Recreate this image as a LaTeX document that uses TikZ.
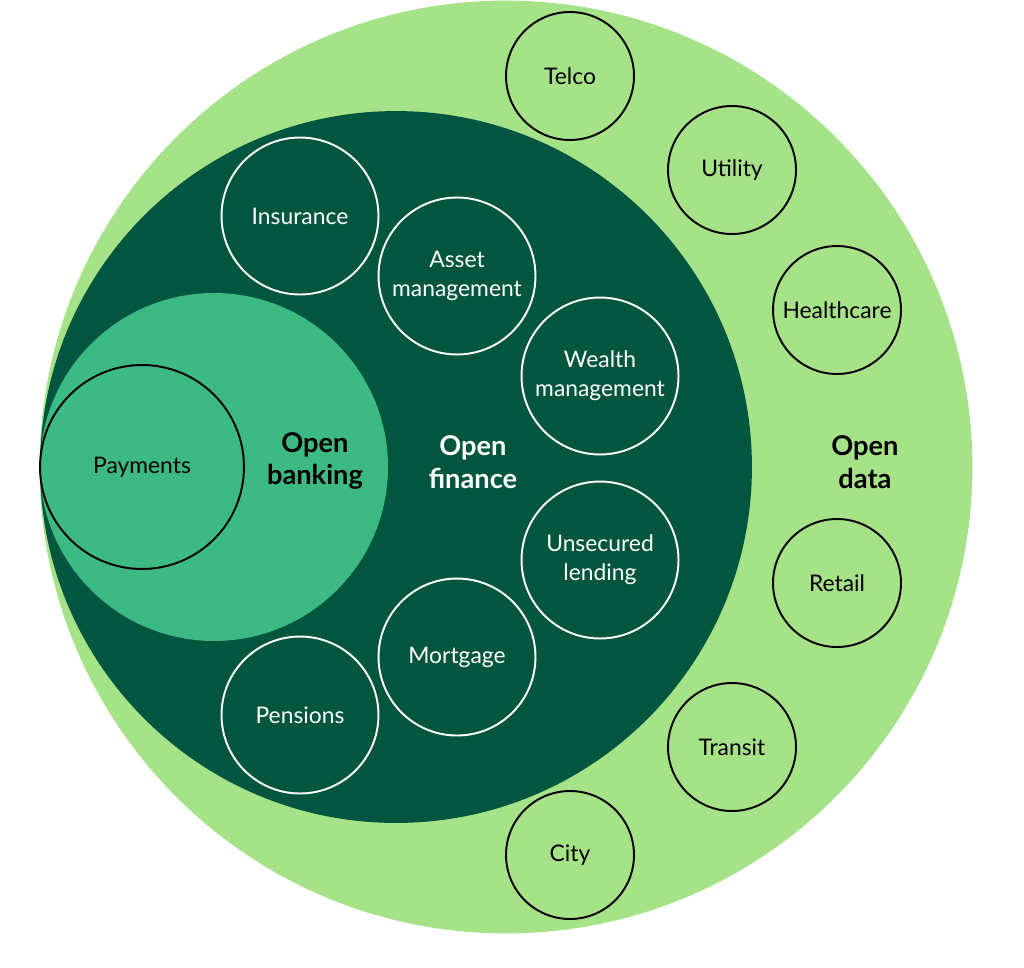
\documentclass[tikz,border=0pt]{standalone}
\usepackage{fontspec}
\setmainfont{Lato}
\definecolor{lightgr}{HTML}{A6E288}
\definecolor{darkgr}{HTML}{02563F}
\definecolor{midgr}{HTML}{3DB984}
\tikzset{
  datacirc/.style={circle,draw=black,line width=1.1pt,minimum size=2.56cm,inner sep=0pt,align=center,font=\fontsize{13}{16}\selectfont},
  fincirc/.style={circle,draw=white,line width=1.1pt,minimum size=3.14cm,inner sep=0pt,align=center,text=white,font=\fontsize{13}{16.4}\selectfont},
  biglabel/.style={align=center,font=\fontsize{15.5}{18.7}\selectfont\bfseries}
}
\begin{document}
\begin{tikzpicture}[x=0.02cm,y=-0.02cm]
		\useasboundingbox (0,0) rectangle (1024,967);
		\fill[lightgr] (506,467) circle (9.33cm);
		\fill[darkgr] (396,467) circle (7.12cm);
		\fill[midgr] (214,467) circle (3.48cm);
		\node[datacirc,minimum size=4.08cm] (payments) at (142,467) {Payments};
		\node[biglabel] (obank) at (315,461) {Open\\banking};
		\node[biglabel,text=white] (ofin) at (473,462) {Open\\finance};
		\node[biglabel] (odata) at (865,462) {Open\\data};
		\node[fincirc] (insurance) at (300,216) {Insurance};
		\node[fincirc] (asset) at (457,276) {Asset\\management};
		\node[fincirc] (wealth) at (600,376) {Wealth\\management};
		\node[fincirc] (unsecured) at (600,560) {Unsecured\\lending};
		\node[fincirc] (mortgage) at (457,657) {Mortgage};
		\node[fincirc] (pensions) at (300,715) {Pensions};
		\node[datacirc] (telco) at (570,76) {Telco};
		\node[datacirc] (utility) at (732,170) {Utility};
		\node[datacirc] (health) at (837,310) {Healthcare};
		\node[datacirc] (retail) at (837,583) {Retail};
		\node[datacirc] (transit) at (732,747) {Transit};
		\node[datacirc] (city) at (570,855) {City};
		\end{tikzpicture}
\end{document}
